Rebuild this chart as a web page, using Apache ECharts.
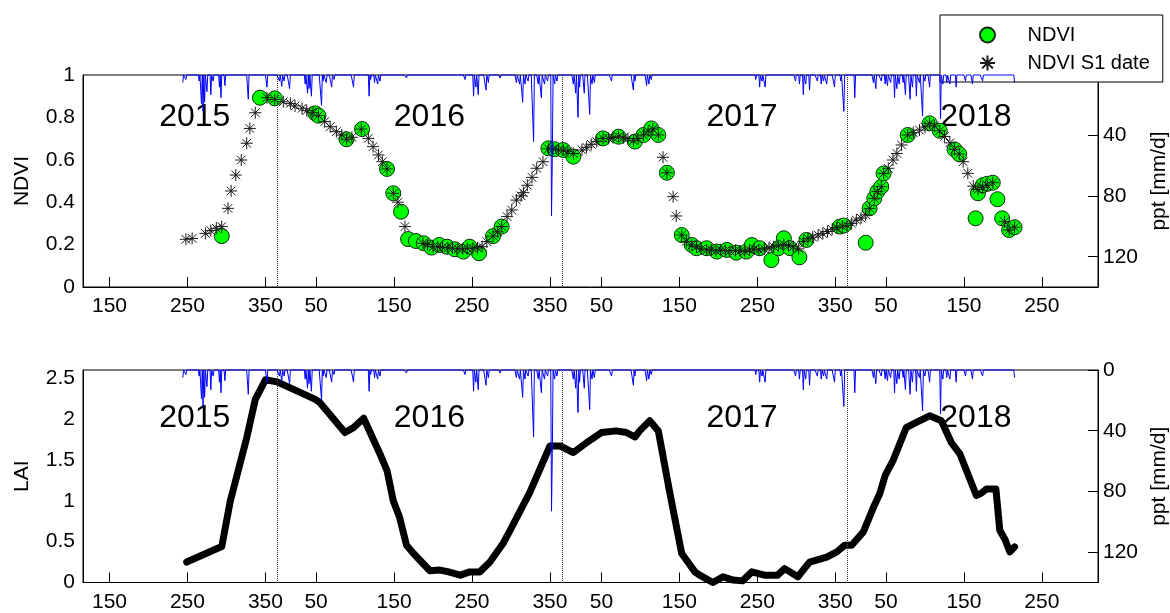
<!DOCTYPE html>
<html><head><meta charset="utf-8">
<script src="https://cdn.jsdelivr.net/npm/echarts@6/dist/echarts.min.js"></script>
<style>html,body{margin:0;padding:0;background:#fff}#c{width:1170px;height:613px}</style>
</head><body><div id="c"></div>
<script>
// time axis: days since 2015-01-01 (DOY of 2015); tick labels are day of year
const tickT = [150, 250, 350, 415, 515, 615, 715, 781, 881, 981, 1081, 1146, 1246, 1346];
const tickLabels = ['150','250','350','50','150','250','350','50','150','250','350','50','150','250'];
const yearBreaks = [365, 731, 1096];
const yearNames = ['2015', '2016', '2017', '2018'];
const yearLabelT = [260, 561, 962, 1262];

// NDVI observations (green circles)
const ndviT = [294,343,362,414,418,454,474,506,514,524,533,543,553,563,573,583,593,604,612,624,642,653,713,721,732,745,783,803,824,835,845,854,865,884,897,903,916,929,942,954,967,974,984,999,1008,1015,1023,1035,1044,1087,1092,1120,1125,1131,1135,1140,1143,1174,1202,1215,1234,1240,1261,1264,1270,1276,1283,1289,1295,1304,1311];
const ndviV = [0.24,0.893,0.89,0.819,0.808,0.697,0.745,0.557,0.442,0.355,0.226,0.217,0.206,0.186,0.198,0.19,0.178,0.167,0.19,0.159,0.24,0.285,0.654,0.65,0.646,0.615,0.701,0.709,0.686,0.717,0.748,0.717,0.539,0.245,0.198,0.183,0.183,0.167,0.175,0.162,0.167,0.198,0.183,0.127,0.183,0.23,0.183,0.14,0.222,0.285,0.29,0.209,0.371,0.418,0.45,0.473,0.536,0.717,0.772,0.737,0.649,0.627,0.324,0.442,0.48,0.487,0.492,0.414,0.324,0.269,0.282];

// NDVI at S1 acquisition dates (stars)
const s1T = [248,256,273,280,287,294,302,306,312,319,326,330,337,352,362,373,382,388,397,403,411,418,426,433,441,448,454,461,473,482,488,495,500,506,514,520,529,552,558,565,571,577,584,590,597,603,609,616,622,628,634,642,648,653,660,666,672,678,681,686,692,698,706,713,719,726,732,738,745,756,762,768,775,783,790,796,803,809,815,822,828,835,841,847,854,860,865,873,877,884,890,897,903,909,916,922,928,934,940,946,953,959,965,971,977,983,990,996,1002,1008,1015,1021,1027,1034,1040,1046,1052,1059,1065,1071,1077,1083,1090,1096,1102,1108,1114,1120,1125,1131,1135,1140,1143,1149,1155,1160,1166,1174,1181,1189,1196,1202,1208,1215,1221,1228,1234,1240,1245,1251,1258,1264,1270,1276,1283,1298,1304,1311];
const s1V = [0.225,0.229,0.253,0.266,0.277,0.285,0.371,0.453,0.528,0.599,0.678,0.748,0.822,0.893,0.885,0.874,0.866,0.854,0.843,0.832,0.822,0.808,0.78,0.756,0.733,0.717,0.697,0.706,0.745,0.701,0.662,0.623,0.591,0.557,0.442,0.40,0.285,0.206,0.2,0.19,0.19,0.187,0.185,0.183,0.18,0.18,0.183,0.183,0.185,0.19,0.214,0.24,0.26,0.285,0.332,0.363,0.41,0.43,0.445,0.48,0.517,0.56,0.591,0.652,0.652,0.646,0.646,0.64,0.63,0.646,0.659,0.673,0.686,0.701,0.701,0.705,0.709,0.703,0.7,0.69,0.7,0.717,0.735,0.745,0.717,0.612,0.539,0.426,0.335,0.245,0.215,0.198,0.19,0.18,0.175,0.175,0.17,0.175,0.172,0.17,0.172,0.17,0.168,0.175,0.18,0.175,0.18,0.185,0.19,0.195,0.2,0.195,0.19,0.18,0.215,0.228,0.235,0.245,0.252,0.262,0.272,0.28,0.287,0.29,0.3,0.316,0.325,0.34,0.371,0.418,0.45,0.473,0.536,0.56,0.599,0.63,0.67,0.717,0.728,0.74,0.755,0.772,0.76,0.737,0.71,0.68,0.649,0.627,0.591,0.536,0.476,0.46,0.47,0.48,0.492,0.308,0.269,0.282];

// LAI
const laiT = [249,294,305,326,337,350,365,414,420,452,463,476,498,506,514,522,531,540,561,574,585,600,612,625,638,655,664,689,715,728,745,762,781,800,813,824,830,843,854,869,884,901,907,924,937,950,962,974,990,1000,1007,1016,1033,1048,1070,1083,1093,1102,1117,1130,1138,1145,1155,1172,1185,1202,1217,1230,1241,1262,1268,1275,1287,1292,1299,1305,1311];
const laiV = [0.25,0.44,1.0,1.77,2.24,2.48,2.455,2.24,2.2,1.835,1.895,2.01,1.55,1.37,1.0,0.8,0.456,0.355,0.144,0.152,0.13,0.09,0.13,0.13,0.25,0.48,0.64,1.1,1.67,1.67,1.59,1.71,1.835,1.855,1.835,1.78,1.855,1.98,1.855,1.085,0.355,0.13,0.09,0.0,0.07,0.03,0.02,0.13,0.09,0.09,0.09,0.17,0.07,0.25,0.31,0.375,0.456,0.456,0.62,0.92,1.085,1.31,1.49,1.895,1.96,2.04,1.98,1.71,1.57,1.065,1.09,1.145,1.145,0.64,0.52,0.375,0.436];

// daily precipitation: record start/end and rain days (other days 0 mm)
const pptStart = 244, pptEnd = 1311;
const rainT = [244,248,265,268,270,272,275,280,283,291,293,298,328,352,368,371,374,381,401,404,406,409,422,424,428,435,438,463,483,485,490,494,497,531,606,617,620,623,633,636,651,672,676,680,683,687,694,700,704,708,712,717,718,721,724,745,748,751,753,759,766,769,772,794,822,824,839,842,845,979,984,987,991,1030,1035,1040,1043,1048,1058,1063,1066,1070,1080,1088,1092,1106,1130,1133,1140,1145,1148,1152,1157,1160,1163,1168,1171,1177,1180,1185,1189,1193,1196,1202,1216,1219,1224,1228,1236,1248,1257,1270,1311];
const rainV = [5,3,4,19,24,18,11,13,4,8,15,7,16,8,4,7.5,4,9,6,12,9,14,20,4,5,8,3,8,14,3,5,6,4,2,3,14,8,13,10,5,2,5,6,18,6,4,44,6,15,6,4,93,55,6,4,6,12,28,8,12,26,6,5,4,10,4,7,6,3,3,8,4,8,4,6,13,6,10,4,6,4,6,8,4,24,15,5,9,4,6,7,5,15,9,6,5,13,16,8,14,5,27,4,8,29,6,5,6,8,4,6,4,5];

const pptData = [];
for (let d = pptStart; d <= pptEnd; d++) {
  const i = rainT.indexOf(d);
  pptData.push([d, i >= 0 ? rainV[i] : 0]);
}
const zip = (a, b) => a.map((v, i) => [v, b[i]]);

const FONT = 'Liberation Sans, Arial, sans-serif';
const STAR = 'path://M0,-10L0,10M-10,0L10,0M-7.2,-7.2L7.2,7.2M-7.2,7.2L7.2,-7.2';

function xAxis(gi) {
  return {
    type: 'value', gridIndex: gi, min: 116, max: 1418,
    axisLine: { show: true, lineStyle: { color: '#000', width: 1 } },
    axisTick: { show: true, inside: true, length: 10, customValues: tickT, lineStyle: { color: '#000' } },
    axisLabel: { customValues: tickT, color: '#000', fontSize: 21, fontFamily: FONT, margin: 9,
      formatter: v => tickLabels[tickT.indexOf(v)] },
    splitLine: { show: false }
  };
}
function pptAxis(gi, labels) {
  return {
    type: 'value', gridIndex: gi, position: 'right', inverse: true, min: 0, max: 140,
    axisLine: { show: true, lineStyle: { color: '#000' } },
    axisTick: { show: true, inside: true, length: 10, customValues: [0, 40, 80, 120], lineStyle: { color: '#000' } },
    axisLabel: { customValues: labels, color: '#000', fontSize: 21, fontFamily: FONT, margin: 5 },
    splitLine: { show: false },
    name: 'ppt [mm/d]', nameLocation: 'middle', nameRotate: 90, nameGap: 50,
    nameTextStyle: { color: '#000', fontSize: 21, fontFamily: FONT }
  };
}
function leftAxis(gi, max, ticks, name) {
  return {
    type: 'value', gridIndex: gi, min: 0, max: max,
    axisLine: { show: true, lineStyle: { color: '#000' } },
    axisTick: { show: false },
    axisLabel: { customValues: ticks, color: '#000', fontSize: 21, fontFamily: FONT, margin: 8 },
    splitLine: { show: false },
    name: name, nameLocation: 'middle', nameRotate: 90, nameGap: 50,
    nameTextStyle: { color: '#000', fontSize: 21, fontFamily: FONT }
  };
}
const vLines = {
  silent: true, symbol: ['none', 'none'], label: { show: false },
  lineStyle: { type: 'dotted', color: '#333', width: 1 },
  emphasis: { disabled: true },
  data: yearBreaks.map(t => ({ xAxis: t }))
};
function yearSeries(gi, yi, yv) {
  return {
    type: 'scatter', xAxisIndex: gi, yAxisIndex: yi, symbolSize: 1, silent: true, z: 1,
    itemStyle: { color: 'rgba(0,0,0,0)' },
    data: yearNames.map((n, i) => ({ name: n, value: [yearLabelT[i], yv] })),
    label: { show: true, position: [0, 0], align: 'center', verticalAlign: 'middle',
      formatter: p => p.name, color: '#000', opacity: 1, textBorderWidth: 0, fontSize: 32, fontFamily: FONT }
  };
}

const chart = echarts.init(document.getElementById('c'));
chart.setOption({
  animation: false,
  backgroundColor: '#fff',
  grid: [
    { left: 83, top: 75, width: 1015, height: 212, show: true, borderColor: '#000', borderWidth: 1,
      containLabel: false, outerBoundsMode: 'none' },
    { left: 83, top: 370, width: 1015, height: 212.5, show: true, borderColor: '#000', borderWidth: 1,
      containLabel: false, outerBoundsMode: 'none' }
  ],
  xAxis: [xAxis(0), xAxis(1)],
  yAxis: [
    leftAxis(0, 1, [0, 0.2, 0.4, 0.6, 0.8, 1], 'NDVI'),
    pptAxis(0, [40, 80, 120]),
    leftAxis(1, 2.6, [0, 0.5, 1, 1.5, 2, 2.5], 'LAI'),
    pptAxis(1, [0, 40, 80, 120])
  ],
  legend: {
    data: ['NDVI', 'NDVI S1 date'], orient: 'vertical', left: 940, top: 15,
    backgroundColor: '#fff', borderColor: '#000', borderWidth: 1, borderRadius: 0,
    padding: [10, 13, 9, 39], itemGap: 8, itemWidth: 70, itemHeight: 15,
    textStyle: { color: '#000', fontSize: 20, fontFamily: FONT },
    selectedMode: false
  },
  series: [
    { name: 'ppt1', type: 'line', xAxisIndex: 0, yAxisIndex: 1, data: pptData, showSymbol: false, clip: false,
      lineStyle: { color: '#0000ff', width: 1 }, z: 5, silent: true, markLine: vLines },
    { name: 'NDVI', type: 'scatter', xAxisIndex: 0, yAxisIndex: 0, data: zip(ndviT, ndviV), symbol: 'circle', symbolSize: 15,
      itemStyle: { color: '#00ff00', borderColor: '#0b2a0b', borderWidth: 1, opacity: 1 }, z: 3 },
    { name: 'NDVI S1 date', type: 'scatter', xAxisIndex: 0, yAxisIndex: 0, data: zip(s1T, s1V), symbol: STAR, symbolSize: 12,
      itemStyle: { color: '#1a1a1a', borderColor: '#1a1a1a', borderWidth: 1, opacity: 1 }, z: 4 },
    yearSeries(0, 0, 0.80),
    { name: 'ppt2', type: 'line', xAxisIndex: 1, yAxisIndex: 3, data: pptData, showSymbol: false, clip: false,
      lineStyle: { color: '#0000ff', width: 1 }, z: 5, silent: true, markLine: vLines },
    { name: 'LAI', type: 'line', xAxisIndex: 1, yAxisIndex: 2, data: zip(laiT, laiV), showSymbol: false,
      lineStyle: { color: '#000', width: 7, cap: 'round', join: 'round' }, z: 3 },
    yearSeries(1, 2, 2.0)
  ]
});
</script></body></html>
